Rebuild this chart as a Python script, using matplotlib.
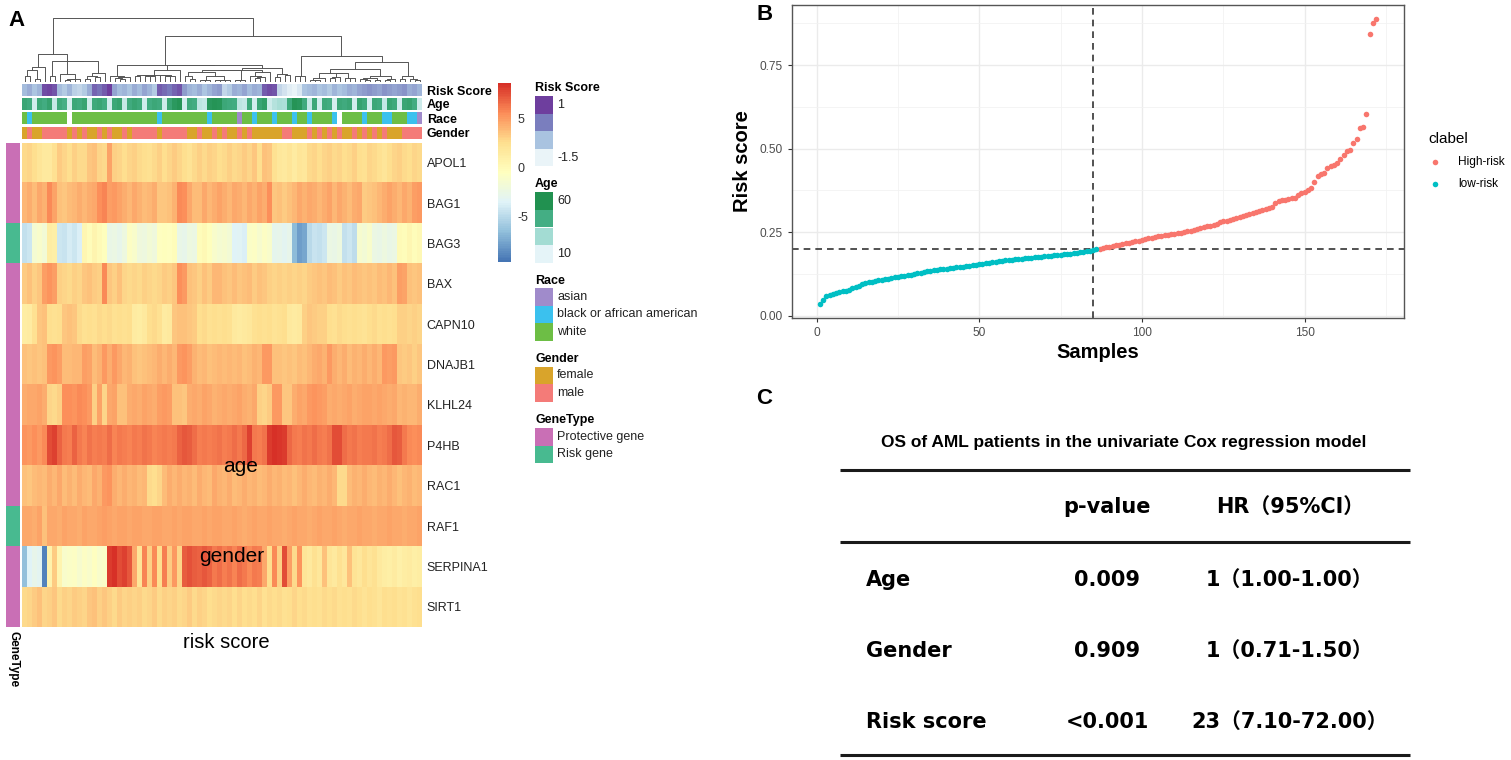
import numpy as np
import matplotlib
matplotlib.use("Agg")
import matplotlib.pyplot as plt
from matplotlib.colors import LinearSegmentedColormap, ListedColormap, Normalize
from matplotlib.patches import Rectangle

plt.rcParams['font.family'] = ['Liberation Sans', 'Noto Sans CJK SC', 'DejaVu Sans']
plt.rcParams['axes.unicode_minus'] = False

W, H = 1511, 760

# ---------------- panel A data (80 sample columns, display order) ----------------
genes = ["APOL1", "BAG1", "BAG3", "BAX", "CAPN10", "DNAJB1",
         "KLHL24", "P4HB", "RAC1", "RAF1", "SERPINA1", "SIRT1"]
gene_type = ["P", "P", "R", "P", "P", "P", "P", "P", "P", "R", "P", "P"]

apol1 = [2.6, 2.8, 2.4, 2.0, 1.6, 1.5, 2.2, 3.2, 2.9, 2.5,
         3.0, 2.7, 2.6, 3.4, 3.6, 2.9, 2.6, 4.6, 3.0, 2.8,
         2.5, 2.9, 3.1, 2.6, 2.4, 2.2, 2.7, 3.0, 2.5, 2.9,
         3.2, 2.8, 2.4, 2.1, 2.6, 3.0, 2.7, 3.1, 2.9, 2.5,
         2.7, 3.0, 2.6, 2.9, 3.2, 2.8, 3.4, 2.5, 3.6, 3.3,
         2.2, 1.8, 1.6, 2.0, 1.4, 1.9, 1.7, 2.6, 2.9, 2.5,
         2.8, 3.1, 2.6, 2.9, 2.4, 2.7, 3.0, 2.5, 2.3, 2.8,
         2.6, 2.2, 2.0, 2.5, 2.8, 3.0, 2.7, 2.4, 2.9, 2.6]
bag1 = [4.0, 4.2, 3.8, 4.4, 4.1, 5.6, 4.6, 3.5, 3.4, 3.7,
        4.0, 4.3, 3.9, 4.2, 4.5, 5.4, 5.7, 4.8, 5.0, 4.6,
        4.2, 3.9, 4.4, 4.1, 3.8, 4.0, 4.3, 3.4, 3.3, 3.6,
        4.1, 5.5, 5.3, 4.5, 3.7, 3.8, 4.4, 4.0, 4.2, 4.6,
        4.3, 4.0, 4.5, 4.2, 3.9, 4.4, 4.1, 4.6, 4.3, 5.4,
        3.4, 3.5, 3.2, 3.6, 4.0, 4.4, 4.1, 4.5, 4.2, 3.9,
        4.3, 4.7, 4.0, 4.4, 4.1, 3.8, 4.2, 4.5, 3.2, 3.3,
        3.5, 4.0, 4.3, 4.6, 4.2, 3.9, 4.4, 4.1, 4.9, 5.1]
bag3 = [-4.6, -4.2, -1.6, -1.2, -1.8, 1.2, 1.0, -4.3, -4.5, -4.0,
        -4.2, -3.8, 0.2, -0.3, 0.4, -0.1, -0.5, -2.6, -2.4, -2.9,
        -2.2, -0.9, -1.2, -2.0, -2.3, -1.8, -2.1, -0.6, -0.4, -0.7,
        -0.3, -2.6, -2.8, -2.3, -2.5, -0.2, 0.1, -0.4, -1.2, -1.6,
        -1.4, -1.8, -3.6, -3.4, -3.8, -1.0, -0.8, -1.3, -0.9, -1.1,
        -3.0, -2.8, -3.2, -2.9, -6.6, -8.0, -7.6, -5.0, -4.4, -4.7,
        -4.3, -2.4, -2.6, -2.2, -4.6, -4.2, -4.8, -1.4, -1.7, -1.2,
        -2.5, -2.7, -2.3, -2.6, -2.4, 0.0, -0.3, 0.2, -0.2, 0.1]
bax = [3.2, 3.5, 3.0, 3.3, 4.8, 5.2, 4.9, 3.1, 2.8, 2.7,
       3.0, 2.9, 3.3, 3.6, 3.2, 3.0, 5.6, 3.4, 3.1, 3.5,
       2.9, 2.7, 2.8, 2.6, 3.0, 2.8, 2.7, 2.9, 3.2, 3.0,
       3.4, 5.3, 5.0, 3.6, 3.3, 3.1, 3.5, 3.2, 4.0, 3.9,
       3.6, 3.4, 3.7, 3.3, 3.5, 3.8, 3.2, 3.6, 3.4, 3.1,
       2.9, 3.0, 2.8, 3.1, 2.9, 3.0, 2.8, 3.2, 3.4, 3.6,
       3.3, 3.7, 3.5, 3.2, 3.6, 3.4, 3.8, 3.5, 3.3, 3.6,
       3.4, 3.7, 3.5, 3.9, 3.6, 4.8, 4.6, 3.5, 3.3, 3.6]
capn10 = [1.2, 1.4, 2.3, 3.4, 3.6, 2.5, 2.2, 2.4, 3.3, 3.6,
          3.4, 2.6, 2.3, 2.5, 2.2, 2.6, 2.4, 2.7, 2.3, 2.5,
          2.2, 2.4, 1.3, 1.2, 1.5, 2.4, 2.6, 2.3, 1.4, 1.6,
          3.3, 3.5, 3.6, 3.4, 3.2, 2.4, 2.6, 2.2, 2.5, 2.3,
          2.4, 2.2, 1.6, 1.4, 1.5, 1.7, 2.3, 2.5, 2.2, 2.4,
          2.1, 2.3, 2.5, 1.6, 1.4, 1.5, 3.1, 3.3, 3.2, 3.0,
          3.1, 2.5, 2.3, 2.6, 2.4, 2.2, 2.5, 2.3, 2.1, 2.4,
          2.6, 2.3, 2.5, 2.2, 2.4, 3.0, 3.1, 2.9, 3.0, 2.8]
dnajb1 = [3.5, 3.4, 3.6, 3.3, 3.5, 5.0, 5.2, 4.8, 3.8, 3.7,
          3.9, 4.0, 4.9, 4.7, 3.8, 4.1, 5.1, 4.2, 5.0, 4.4,
          3.9, 4.1, 3.5, 3.4, 3.6, 3.7, 4.0, 4.3, 3.9, 4.2,
          4.0, 5.1, 5.2, 4.9, 4.1, 3.8, 4.0, 3.6, 3.7, 3.9,
          3.8, 4.0, 3.7, 3.9, 3.6, 3.8, 4.1, 3.9, 5.0, 5.1,
          3.6, 3.5, 3.4, 3.6, 3.3, 3.7, 3.5, 4.0, 4.2, 4.4,
          4.1, 5.0, 4.3, 4.0, 4.2, 3.8, 4.1, 3.9, 4.3, 4.0,
          4.2, 3.9, 5.0, 4.8, 5.1, 3.4, 3.2, 3.3, 3.1, 3.4]
klhl24 = [4.2, 4.5, 4.4, 4.6, 4.3, 2.9, 2.7, 3.1, 5.3, 5.4,
          5.2, 5.5, 5.3, 5.1, 3.0, 4.6, 2.8, 4.4, 4.7, 3.6,
          3.5, 4.2, 4.5, 4.3, 4.6, 4.4, 4.2, 4.8, 5.0, 4.9,
          3.5, 3.6, 3.4, 4.2, 4.5, 4.3, 4.6, 4.4, 4.1, 4.3,
          4.5, 4.2, 4.4, 4.6, 4.3, 4.1, 4.4, 3.0, 2.9, 3.2,
          5.0, 5.1, 3.3, 3.4, 4.3, 4.6, 4.4, 5.0, 5.2, 5.1,
          4.9, 4.3, 4.5, 4.2, 4.4, 4.6, 4.3, 4.5, 4.7, 4.6,
          4.4, 4.6, 4.5, 4.3, 4.5, 4.0, 4.1, 3.9, 4.0, 4.2]
p4hb = [5.2, 5.0, 5.3, 5.1, 5.5, 7.6, 7.9, 6.8, 6.2, 6.0,
        6.9, 6.1, 5.8, 6.3, 5.9, 6.2, 6.0, 6.4, 5.8, 6.1,
        6.0, 5.7, 6.2, 5.9, 6.3, 6.1, 5.8, 6.0, 6.2, 5.9,
        6.1, 6.8, 7.2, 7.0, 6.4, 6.0, 6.2, 5.9, 6.1, 6.3,
        6.0, 6.2, 6.4, 6.1, 6.6, 8.0, 6.2, 6.0, 6.3, 8.1,
        8.4, 8.3, 8.1, 6.6, 6.2, 6.0, 6.3, 6.1, 6.4, 6.2,
        6.0, 6.3, 7.5, 7.6, 6.4, 6.1, 6.3, 6.0, 6.2, 6.1,
        6.3, 6.0, 6.2, 6.5, 7.2, 7.0, 6.1, 5.6, 5.4, 5.6]
rac1 = [3.6, 3.4, 3.8, 4.0, 3.7, 4.2, 3.9, 4.4, 3.8, 4.1,
        3.7, 4.3, 4.0, 3.8, 4.5, 4.1, 5.0, 5.2, 4.3, 4.0,
        4.2, 3.9, 4.1, 3.8, 4.0, 2.6, 2.5, 2.9, 3.8, 4.2,
        4.0, 4.3, 3.9, 4.1, 3.8, 4.2, 4.0, 3.7, 4.4, 4.1,
        3.9, 4.2, 3.8, 4.0, 4.3, 3.9, 4.1, 3.8, 4.0, 4.2,
        3.9, 4.1, 3.8, 4.0, 3.6, 3.9, 4.2, 4.0, 3.7, 4.1,
        3.9, 4.2, 4.0, 2.7, 2.6, 3.8, 4.1, 3.9, 4.2, 4.0,
        3.8, 4.1, 3.9, 4.3, 4.0, 3.6, 3.9, 4.1, 3.8, 4.0]
raf1 = [4.4, 4.5, 4.3, 4.6, 3.6, 4.4, 4.5, 4.3, 4.6, 4.4,
        4.5, 4.3, 4.6, 4.4, 4.5, 4.7, 4.8, 4.6, 4.5, 4.7,
        4.6, 4.5, 4.7, 4.6, 4.4, 4.5, 4.6, 4.7, 4.5, 4.4,
        4.6, 4.5, 4.7, 4.6, 4.5, 4.4, 4.6, 4.5, 4.7, 4.6,
        4.5, 4.4, 4.6, 4.5, 4.3, 4.5, 4.6, 4.4, 4.5, 4.6,
        4.4, 4.5, 4.3, 4.5, 4.6, 4.4, 4.5, 4.3, 4.4, 4.6,
        4.5, 4.4, 4.6, 4.5, 4.3, 4.4, 4.5, 4.6, 4.4, 4.5,
        4.3, 4.5, 4.4, 4.6, 4.5, 4.4, 4.3, 4.5, 4.4, 4.6]
serpina1 = [-6.5, -3.5, -2.8, -3.2, -9.0, 0.6, 3.2, 0.4, -1.2, -1.0,
            -0.8, -1.3, -0.9, -1.1, -0.7, -1.2, -1.0, 8.2, 8.4, 7.6,
            8.0, 7.2, 4.5, 2.0, 5.8, 3.0, 5.5, 2.5, 6.0, 3.2,
            5.0, 2.8, 7.0, 7.3, 7.1, 6.8, 7.2, 6.9, 6.2, 6.5,
            6.0, 6.3, 5.8, 6.4, 6.1, 5.5, 6.2, 5.9, 4.5, 2.5,
            5.5, 3.0, 7.5, 4.8, 2.6, 5.2, 2.0, 1.6, 2.2, 1.8,
            3.5, 2.0, 1.5, 2.3, 1.8, 3.6, 2.1, 1.7, 2.4, 1.9,
            2.2, 1.6, 1.2, 1.0, 1.3, 0.9, 1.1, 1.4, 1.0, 1.2]
sirt1 = [2.6, 2.9, 3.2, 3.5, 2.8, 3.0, 3.3, 2.7, 3.1, 2.9,
         3.2, 3.0, 2.8, 3.3, 3.6, 3.1, 3.4, 3.0, 2.7, 3.2,
         2.9, 3.1, 2.8, 3.0, 2.6, 2.9, 3.2, 2.7, 3.0, 2.8,
         3.1, 2.7, 2.9, 3.2, 2.6, 3.0, 2.8, 2.5, 2.7, 2.9,
         2.6, 2.8, 2.5, 2.9, 2.4, 2.7, 2.5, 2.8, 2.3, 2.6,
         2.4, 2.7, 2.3, 2.5, 2.8, 2.4, 2.6, 2.2, 2.5, 2.3,
         2.6, 2.4, 2.7, 2.3, 2.5, 2.2, 2.6, 2.4, 2.1, 2.5,
         2.3, 2.0, 2.4, 2.2, 2.5, 2.1, 2.3, 2.0, 2.2, 2.4]

ann_risk = [-0.6, -0.4, -0.7, -0.5, 0.8, 0.9, 0.7, -0.6, -0.8, -0.5,
            -0.9, -1.0, -0.8, -0.4, 0.5, 0.3, 0.6, 1.0, -0.3, -0.6,
            -0.5, -0.7, -0.4, -0.6, -0.3, -0.5, -0.8, 0.6, 0.4, 0.2,
            0.5, 0.7, -0.2, -0.5, -0.6, -0.4, -0.7, -0.5, -0.3, -0.2,
            -1.0, -0.8, -0.4, -0.5, -0.3, -0.6, -0.4, -0.5, 0.6, 0.8,
            0.7, -1.0, -1.2, -1.4, -1.5, -1.3, -0.7, -0.6, -0.5, -0.7,
            -0.6, -0.8, -0.5, -0.7, -0.6, -0.4, -0.5, -0.3, -0.2, -0.1,
            -0.2, -0.3, -0.1, -0.2, -0.3, -0.2, -0.1, -0.4, -0.3, -0.5]
ann_age = [48, 45, 15, 47, 44, 50, 18, 46, 43, 14,
           47, 45, 49, 16, 46, 48, 44, 15, 47, 50,
           18, 45, 49, 46, 15, 44, 47, 45, 16, 48,
           55, 58, 15, 46, 44, 20, 18, 56, 58, 57,
           47, 45, 44, 20, 18, 46, 15, 48, 52, 16,
           22, 25, 24, 46, 58, 56, 45, 18, 47, 15,
           46, 44, 14, 47, 45, 48, 15, 50, 46, 14,
           47, 45, 18, 49, 46, 15, 48, 50, 44, 16]
# A = asian, B = black or african american, W = white, N = missing
ann_race = list("WBWWWWWWWN" "WWWWWWWWWW" "WWWWWWWBWW" "WWWWWWWBWW"
                "WWWAWWBWWW" "BWWWBWWBWW" "WWBNWWWWBW" "WWBBWWWBBA")
# F = female, M = male
ann_gender = list("FMFFMMMMMF" "MFMFFMFMFF" "MFMMMMMFMM" "MMMFFMFFMF"
                  "MFFMFMFFFF" "FFMMFFFMFM" "FMFMFFMFMF" "MFMFFFMMMM")

race_names = ["asian", "black or african american", "white"]
race_colors = ["#A08BCB", "#3BC1EE", "#6DBE45"]
gender_names = ["female", "male"]
gender_colors = ["#D9A42B", "#F47B78"]
type_names = ["Protective gene", "Risk gene"]
type_colors = ["#C96FB5", "#48BA90"]

# ---------------- panel B data ----------------
low_risk = [0.036, 0.048, 0.058, 0.062, 0.065, 0.068, 0.071, 0.073, 0.075, 0.078,
            0.082, 0.085, 0.090, 0.095, 0.098, 0.100, 0.102, 0.104, 0.106, 0.108,
            0.110, 0.111, 0.113, 0.115, 0.117, 0.119, 0.120, 0.121, 0.123, 0.125,
            0.127, 0.129, 0.131, 0.133, 0.135, 0.137, 0.138, 0.139, 0.140, 0.141,
            0.142, 0.143, 0.145, 0.146, 0.147, 0.149, 0.150, 0.151, 0.152, 0.154,
            0.156, 0.157, 0.158, 0.160, 0.162, 0.164, 0.165, 0.166, 0.167, 0.168,
            0.169, 0.170, 0.171, 0.172, 0.173, 0.174, 0.175, 0.176, 0.177, 0.178,
            0.179, 0.180, 0.181, 0.182, 0.183, 0.184, 0.185, 0.186, 0.187, 0.189,
            0.190, 0.192, 0.194, 0.195, 0.197, 0.199]
high_risk = [0.201, 0.203, 0.205, 0.207, 0.209, 0.211, 0.213, 0.215, 0.217, 0.219,
             0.221, 0.223, 0.225, 0.227, 0.229, 0.231, 0.233, 0.235, 0.237, 0.239,
             0.240, 0.241, 0.243, 0.244, 0.246, 0.248, 0.250, 0.252, 0.254, 0.256,
             0.259, 0.262, 0.265, 0.267, 0.269, 0.272, 0.275, 0.279, 0.282, 0.284,
             0.286, 0.288, 0.291, 0.294, 0.297, 0.300, 0.303, 0.306, 0.309, 0.313,
             0.317, 0.320, 0.323, 0.326, 0.336, 0.342, 0.345, 0.347, 0.350, 0.352,
             0.352, 0.362, 0.366, 0.370, 0.376, 0.381, 0.400, 0.418, 0.425, 0.428,
             0.443, 0.448, 0.452, 0.456, 0.468, 0.480, 0.493, 0.497, 0.516, 0.530,
             0.562, 0.564, 0.603, 0.844, 0.876, 0.888]
cut_sample = 85
cut_score = 0.2

# ---------------- panel C data ----------------
cox_vars = ["Age", "Gender", "Risk score"]
cox_p = ["0.009", "0.909", "<0.001"]
cox_hr = ["1（1.00-1.00）", "1（0.71-1.50）", "23（7.10-72.00）"]


def rect(x0, y0, x1, y1):
    return [x0 / W, 1 - y1 / H, (x1 - x0) / W, (y1 - y0) / H]


def contiguous_ward(mat):
    # Ward clustering that only joins neighbouring groups,
    # so the tree fits the column order shown
    cols = mat.T
    groups = [(float(i), 0.0, cols[i].copy(), 1) for i in range(cols.shape[0])]
    links = []
    while len(groups) > 1:
        best, best_d = 0, None
        for k in range(len(groups) - 1):
            _, _, ca, na = groups[k]
            _, _, cb, nb = groups[k + 1]
            d = np.sqrt(2 * na * nb / (na + nb) * ((ca - cb) ** 2).sum())
            if best_d is None or d < best_d:
                best, best_d = k, d
        (xa, ha, ca, na), (xb, hb, cb, nb) = groups[best], groups[best + 1]
        h = max(best_d, ha, hb)
        links.append((xa, ha, xb, hb, h))
        groups[best:best + 2] = [((xa + xb) / 2, h, (ca * na + cb * nb) / (na + nb), na + nb)]
    return links


def clean(ax):
    ax.set_xticks([])
    ax.set_yticks([])
    for s in ax.spines.values():
        s.set_visible(False)


fig = plt.figure(figsize=(W / 100, H / 100), dpi=100)

# ---------------- panel A ----------------
mat = np.array([apol1, bag1, bag3, bax, capn10, dnajb1,
                klhl24, p4hb, rac1, raf1, serpina1, sirt1])
n = mat.shape[1]
heat_cmap = LinearSegmentedColormap.from_list(
    "ph", ["#4575B4", "#91BFDB", "#E0F3F8", "#FFFFBF", "#FEE090", "#FC8D59", "#D73027"], N=100)
heat_norm = Normalize(-9.65, 8.57)
risk_cmap = LinearSegmentedColormap.from_list("rs", ["#EAF4F8", "#A9C3E0", "#7A7EBE", "#6E3E9E"])
age_cmap = LinearSegmentedColormap.from_list("ag", ["#E5F4F8", "#A3DCD3", "#44AE84", "#219150"])

ax_d = fig.add_axes(rect(22, 18, 422, 82))
links = contiguous_ward(mat)
for xa, ha, xb, hb, h in links:
    ax_d.plot([xa, xa, xb, xb], [ha, h, h, hb], color="#555555", lw=0.7)
ax_d.set_xlim(-0.5, n - 0.5)
ax_d.set_ylim(0, max(l[4] for l in links))
clean(ax_d)

ann_tops = [84, 97.5, 112, 126.5]
ann_rows = [
    ("Risk Score", np.array([ann_risk]), risk_cmap, Normalize(-1.5, 1.0)),
    ("Age", np.array([ann_age]), age_cmap, Normalize(10, 60)),
    ("Race", np.array([[{"A": 0, "B": 1, "W": 2}.get(r, np.nan) for r in ann_race]]),
     ListedColormap(race_colors), Normalize(-0.5, 2.5)),
    ("Gender", np.array([[0 if g == "F" else 1 for g in ann_gender]]),
     ListedColormap(gender_colors), Normalize(-0.5, 1.5)),
]
for top, (name, vals, cmap, norm) in zip(ann_tops, ann_rows):
    ax = fig.add_axes(rect(22, top, 422, top + 12.5))
    cm = cmap.copy()
    cm.set_bad("white")
    ax.imshow(np.ma.masked_invalid(vals), aspect="auto", cmap=cm, norm=norm,
              interpolation="nearest")
    clean(ax)
    ax.yaxis.tick_right()
    ax.set_yticks([0])
    ax.set_yticklabels([name], fontsize=9, fontweight="bold")
    ax.tick_params(axis="y", length=0, pad=3.4)

ax_h = fig.add_axes(rect(22, 142.5, 422, 627))
im = ax_h.imshow(mat, aspect="auto", cmap=heat_cmap, norm=heat_norm, interpolation="nearest")
clean(ax_h)
ax_h.yaxis.tick_right()
ax_h.set_yticks(range(len(genes)))
ax_h.set_yticklabels(genes, fontsize=9, color="#222222")
ax_h.tick_params(axis="y", length=0, pad=3.4)

ax_t = fig.add_axes(rect(6, 142.5, 20, 627))
ax_t.imshow(np.array([[0 if t == "P" else 1] for t in gene_type]), aspect="auto",
            cmap=ListedColormap(type_colors), vmin=-0.5, vmax=1.5, interpolation="nearest")
clean(ax_t)

cax = fig.add_axes(rect(498, 83, 511, 262))
cb = fig.colorbar(im, cax=cax, ticks=[5, 0, -5])
cb.outline.set_visible(False)
cax.tick_params(length=0, labelsize=9, pad=5, colors="#333333")

# ---------------- panel B ----------------
ax_b = fig.add_axes(rect(792, 5, 1404, 318))
x_low = np.arange(1, len(low_risk) + 1)
x_high = np.arange(len(low_risk) + 1, len(low_risk) + len(high_risk) + 1)
ax_b.scatter(x_high, high_risk, s=16, color="#F8766D", lw=0, label="High-risk", zorder=3)
ax_b.scatter(x_low, low_risk, s=16, color="#00BFC4", lw=0, label="low-risk", zorder=3)
ax_b.axvline(cut_sample, color="#333333", lw=1.2, ls=(0, (4, 3)), zorder=2)
ax_b.axhline(cut_score, color="#333333", lw=1.2, ls=(0, (4, 3)), zorder=2)
ax_b.set_xlim(-7.55, 180.55)
ax_b.set_ylim(-0.007, 0.930)
ax_b.set_xticks([0, 50, 100, 150])
ax_b.set_xticks([25, 75, 125, 175], minor=True)
ax_b.set_yticks([0, 0.25, 0.5, 0.75])
ax_b.set_yticklabels(["0.00", "0.25", "0.50", "0.75"])
ax_b.set_yticks([0.125, 0.375, 0.625, 0.875], minor=True)
ax_b.grid(which="major", color="#EBEBEB", lw=1.0)
ax_b.grid(which="minor", color="#F2F2F2", lw=0.6)
ax_b.set_axisbelow(True)
for s in ax_b.spines.values():
    s.set_color("#555555")
    s.set_linewidth(1.0)
ax_b.tick_params(which="major", length=3, color="#333333", labelsize=8.6,
                 labelcolor="#4D4D4D", width=0.8)
ax_b.tick_params(which="minor", length=0)
leg = ax_b.legend(loc="upper left", bbox_to_anchor=(1428 / W, 1 - 132 / H),
                  bbox_transform=fig.transFigure, frameon=False, title="clabel",
                  title_fontsize=11, fontsize=8.6, handlelength=1.2, handletextpad=1.3,
                  labelspacing=0.85, borderpad=0, borderaxespad=0, alignment="left")

# ---------------- overlay: texts, legends, table ----------------
ov = fig.add_axes([0, 0, 1, 1])
ov.set_xlim(0, W)
ov.set_ylim(H, 0)
ov.axis("off")

for lab, x, y in [("A", 8, 20), ("B", 756, 14), ("C", 756, 398)]:
    ov.text(x, y, lab, fontsize=16, fontweight="bold", ha="left", va="center")

ov.text(241, 466, "age", fontsize=15, ha="center", va="center")
ov.text(232, 556, "gender", fontsize=15, ha="center", va="center")
ov.text(226, 643, "risk score", fontsize=14.5, ha="center", va="center")
ov.text(13, 659, "GeneType", fontsize=8.5, fontweight="bold", rotation=270,
        ha="center", va="center")

box_h = 17.6
legend_groups = [
    ("Risk Score", 88, 96, [risk_cmap(v) for v in np.linspace(1, 0, 4)], ["1", "", "", "-1.5"]),
    ("Age", 184, 192.3, [age_cmap(v) for v in np.linspace(1, 0, 4)], ["60", "", "", "10"]),
    ("Race", 280.7, 288, race_colors, race_names),
    ("Gender", 359, 366.7, gender_colors, gender_names),
    ("GeneType", 420, 428, type_colors, type_names),
]
for title, ty, top, colors, labels in legend_groups:
    ov.text(535, ty, title, fontsize=9, fontweight="bold", ha="left", va="center")
    for i, (c, lab) in enumerate(zip(colors, labels)):
        y0 = top + i * box_h
        ov.add_patch(Rectangle((535, y0), 18, box_h, facecolor=c, edgecolor="none"))
        if lab:
            ov.text(557, y0 + box_h / 2, lab, fontsize=9, color="#222222",
                    ha="left", va="center")

ov.text(742, 161.5, "Risk score", fontsize=14.5, fontweight="bold", rotation=90,
        ha="center", va="center")
ov.text(1098, 353, "Samples", fontsize=14.5, fontweight="bold", ha="center", va="center")

# table (panel C)
tfont = ["DejaVu Sans", "Noto Sans CJK SC"]
ov.text(1124, 442, "OS of AML patients in the univariate Cox regression model",
        fontsize=12.5, fontweight="bold", ha="center", va="center")
for yy in [470, 542, 755]:
    ov.plot([840, 1410], [yy, yy], color="#1A1A1A", lw=2.2, solid_capstyle="butt")
ov.text(1107, 507, "p-value", fontsize=15, fontweight="bold", ha="center", va="center",
        family=tfont)
ov.text(1290, 507, "HR（95%CI）", fontsize=15, fontweight="bold", ha="center", va="center",
        family=tfont)
for yy, name, p, hr in zip([580, 651, 722], cox_vars, cox_p, cox_hr):
    ov.text(866, yy, name, fontsize=15, fontweight="bold", ha="left", va="center", family=tfont)
    ov.text(1107, yy, p, fontsize=15, fontweight="bold", ha="center", va="center", family=tfont)
    ov.text(1290, yy, hr, fontsize=15, fontweight="bold", ha="center", va="center", family=tfont)

fig.savefig("out.png", dpi=100)
